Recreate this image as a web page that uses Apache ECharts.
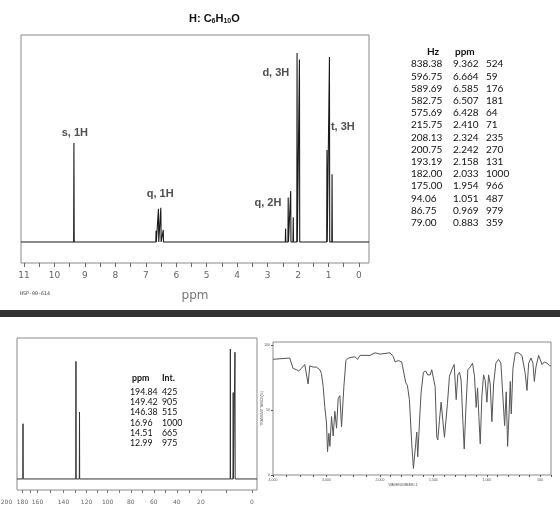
<!DOCTYPE html>
<html><head><meta charset="utf-8">
<script src="https://cdn.jsdelivr.net/npm/echarts@6/dist/echarts.min.js"></script>
<style>html,body{margin:0;padding:0;background:#fff}#c{width:560px;height:505px}</style>
</head><body><div id="c"></div>
<script>
// ---------- 1H NMR ----------
const hHz  = [838.38,596.75,589.69,582.75,575.69,215.75,208.13,200.75,193.19,182.00,175.00,94.06,86.75,79.00];
const hPpm = [9.362,6.664,6.585,6.507,6.428,2.410,2.324,2.242,2.158,2.033,1.954,1.051,0.969,0.883];
const hInt = [524,59,176,181,64,71,235,270,131,1000,966,487,979,359];
const hTicks = [11,10,9,8,7,6,5,4,3,2,1,0];
const hMinorTicks = [10.5,9.5,8.5,7.5,6.5,5.5,4.5,3.5,2.5,1.5,0.5];
const hLabelText = ['s, 1H','q, 1H','q, 2H','d, 3H','t, 3H'];
const hLabelPpm  = [9.33,6.53,2.99,2.73,0.53];
const hLabelVal  = [577,254,206,894,608];
// ---------- 13C NMR ----------
const cPpm = [194.84,149.42,146.38,16.96,14.51,12.99];
const cInt = [425,905,515,1000,665,975];
const cTickText = ['200','180','160','140','120','100','80','60','40','20','0'];
// where the original image prints its (uneven) scale labels, in ppm of the peak scale
const cTickPos  = [209.0,195.3,182.4,160.1,140.3,122.2,102.4,82.6,62.9,42.2,-1.6];
// ---------- IR ----------
const irWn = [4000,3687,3625,3562,3519,3469,3406,3387,3344,3312,3250,3187,3125,3094,3062,3031,3000,2981,2956,2937,2906,2875,2844,2812,2781,2750,2719,2700,2675,2637,2594,2469,2419,2375,2187,2094,2000,
  1906,1875,1859,1844,1828,1797,1781,1759,1744,1725,1703,1687,1678,1666,1656,1647,1631,1616,1594,1572,1553,1531,1516,1500,1484,1469,1459,1444,1428,1412,1397,1384,1369,1350,1328,1306,1287,1272,1256,1241,1225,1212,1197,1178,1156,1134,1116,1100,1087,1075,1062,1047,1031,1016,1000,984,969,953,937,916,891,869,850,834,819,806,791,781,772,756,734,703,672,641,625,609,587,569,556,541,516,484,462,437,412,400];
const irT = [89,90,82,81,80,82,85,86,70,84,83,83,81,78,68,52,40,18,32,22,45,30,49,36,59,61,37,36,68,88,90,91,89,92,92,94,93,
  94,91,87,86,88,87,86,71,69,58,24,5,6,24,33,14,40,63,79,80,77,77,81,80,68,29,27,42,56,42,29,29,55,76,81,85,58,77,79,73,42,20,50,81,83,86,76,52,67,45,24,60,77,73,56,77,70,41,70,86,89,86,60,38,64,22,50,72,47,82,94,94,92,78,65,86,90,86,72,83,92,85,87,86,84,84];
const irTicksA = [4000,3000];
const irTicksB = [2000,1500,1000,500];
const irMinorA = [3750,3500,3250,2750,2500,2250];
const irMinorB = [1900,1800,1700,1600,1400,1300,1200,1100,900,800,700,600,400];

function sticks(ppm, ints, lo, hi, w) {
  const pts = [[hi, 0]];
  const idx = ppm.map((p, i) => i).sort((a, b) => ppm[b] - ppm[a]);
  idx.forEach(i => { pts.push([ppm[i] + w, 0], [ppm[i], ints[i]], [ppm[i] - w, 0]); });
  pts.push([lo, 0]);
  return pts;
}
const irA = [], irB = [];
irWn.forEach((w, i) => { if (w >= 2000) irA.push([w, irT[i]]); if (w <= 2000) irB.push([w, irT[i]]); });

const tickFont = {fontFamily: 'DejaVu Sans', color: '#666'};
const hide = {show: false};
const noLine = {show: false, onZero: false};
const cMin = -5.9, cMax = 200;
const cTickMarks = [];
cTickPos.forEach((p, i) => {
  if (p >= cMin && p <= cMax) cTickMarks.push(p);
  if (i > 0) { const m = (p + cTickPos[i - 1]) / 2; if (m >= cMin && m <= cMax) cTickMarks.push(m); }
});
const G = {outerBoundsMode: 'none', containLabel: false};

const chart = echarts.init(document.getElementById('c'), null, {renderer: 'canvas'});
chart.setOption({
  animation: false,
  backgroundColor: '#fff',
  title: {
    text: '{a|H: C}{s|6}{a|H}{s|10}{a|O}', left: 184, top: 8,
    textStyle: {rich: {
      a: {fontFamily: 'Liberation Sans', fontWeight: 'bold', fontSize: 11, color: '#111'},
      s: {fontFamily: 'Liberation Sans', fontWeight: 'bold', fontSize: 7, color: '#111', padding: [5, 0, 0, 0]}
    }}
  },
  grid: [
    {...G, left: 21, top: 35, width: 348, height: 228, show: true, borderColor: '#8a8a8a', borderWidth: 1},
    {...G, left: 17, top: 338, width: 240, height: 152, show: true, borderColor: '#8a8a8a', borderWidth: 1},
    {...G, left: 273, top: 342, width: 278, height: 133, show: true, borderColor: '#8a8a8a', borderWidth: 1},
    {...G, left: 273, top: 345, width: 107, height: 130},
    {...G, left: 380, top: 345, width: 171, height: 130},
    {...G, left: 0, top: 338, width: 257, height: 152}
  ],
  xAxis: [
    // 0: 1H
    {gridIndex: 0, type: 'value', position: 'bottom', inverse: true, min: -0.33, max: 11.1, splitLine: hide, axisLine: noLine,
     axisTick: {length: 4, customValues: hTicks.concat(hMinorTicks), lineStyle: {color: '#666'}},
     axisLabel: {customValues: hTicks, fontSize: 9, margin: 8, ...tickFont},
     name: 'ppm', nameLocation: 'middle', nameGap: 27, nameTextStyle: {fontFamily: 'DejaVu Sans', fontSize: 12, color: '#777'}},
    // 1: 13C peak scale
    {gridIndex: 1, type: 'value', position: 'bottom', inverse: true, min: cMin, max: cMax, splitLine: hide, axisLine: noLine,
     axisTick: {length: 3, customValues: cTickMarks, lineStyle: {color: '#777'}}, axisLabel: hide},
    // 2: 13C printed scale labels
    {gridIndex: 5, type: 'value', position: 'bottom', inverse: true, min: cMin, max: cMin + 257 / 240 * (cMax - cMin),
     splitLine: hide, axisLine: noLine, axisTick: hide,
     axisLabel: {customValues: cTickPos, fontSize: 6, margin: 9, ...tickFont,
       formatter: v => { let b = 0; cTickPos.forEach((p, i) => { if (Math.abs(p - v) < Math.abs(cTickPos[b] - v)) b = i; }); return cTickText[b]; }}},
    // 3: IR frame
    {gridIndex: 2, type: 'value', position: 'bottom', min: 0, max: 1, axisLine: noLine, axisTick: hide, axisLabel: hide, splitLine: hide,
     name: 'WAVENUMBER/-1', nameLocation: 'middle', nameGap: 8,
     nameTextStyle: {fontSize: 3.5, color: '#555', padding: [0, 18, 0, 0]}},
    // 4: IR 4000-2000
    {gridIndex: 3, type: 'value', position: 'bottom', inverse: true, min: 2000, max: 4000, splitLine: hide, axisLine: noLine,
     axisTick: {length: 2, customValues: irTicksA.concat(irMinorA), lineStyle: {color: '#555'}},
     axisLabel: {customValues: irTicksA, fontSize: 3.5, margin: 3, color: '#555'}},
    // 5: IR 2000-400
    {gridIndex: 4, type: 'value', position: 'bottom', inverse: true, min: 400, max: 2000, splitLine: hide, axisLine: noLine,
     axisTick: {length: 2, customValues: irTicksB.concat(irMinorB), lineStyle: {color: '#555'}},
     axisLabel: {customValues: irTicksB, fontSize: 3.5, margin: 3, color: '#555'}}
  ],
  yAxis: [
    {gridIndex: 0, type: 'value', min: -111, max: 1095, show: false},
    {gridIndex: 1, type: 'value', min: -85, max: 1085, show: false},
    {gridIndex: 2, type: 'value', position: 'left', min: 0, max: 1, axisLine: noLine, axisTick: hide, axisLabel: hide, splitLine: hide,
     name: 'TRANSMITTANCE(%)', nameLocation: 'middle', nameGap: 9, nameTextStyle: {fontSize: 3.5, color: '#555'}},
    {gridIndex: 3, type: 'value', position: 'left', min: 0, max: 100, interval: 50, splitLine: hide, axisLine: noLine,
     axisTick: {length: 2, lineStyle: {color: '#555'}}, axisLabel: {fontSize: 3.5, margin: 3, color: '#555'}},
    {gridIndex: 4, type: 'value', min: 0, max: 100, show: false},
    {gridIndex: 5, type: 'value', min: 0, max: 1, show: false}
  ],
  series: [
    {type: 'line', xAxisIndex: 0, yAxisIndex: 0, data: sticks(hPpm, hInt, -0.33, 11.1, 0.009),
     showSymbol: false, lineStyle: {color: '#1a1a1a', width: 1.1}},
    {type: 'scatter', xAxisIndex: 0, yAxisIndex: 0, symbolSize: 0,
     data: hLabelPpm.map((p, i) => ({value: [p, hLabelVal[i]], name: hLabelText[i]})),
     label: {show: true, position: 'inside', formatter: p => p.name,
       fontFamily: 'Liberation Sans', fontWeight: 'bold', fontSize: 11, color: '#222'}},
    {type: 'line', xAxisIndex: 1, yAxisIndex: 1, data: sticks(cPpm, cInt, cMin, cMax, 0.15),
     showSymbol: false, lineStyle: {color: '#333', width: 1}},
    {type: 'line', xAxisIndex: 4, yAxisIndex: 3, data: irA, showSymbol: false, lineStyle: {color: '#555', width: 1}},
    {type: 'line', xAxisIndex: 5, yAxisIndex: 4, data: irB, showSymbol: false, lineStyle: {color: '#555', width: 1}}
  ],
  graphic: [
    {type: 'rect', left: 0, top: 310, shape: {width: 560, height: 7}, style: {fill: '#333'}},
    {type: 'text', left: 20, top: 291, style: {text: 'HSP-00-614', fontFamily: 'DejaVu Sans Mono', fontSize: 5, fill: '#444'}},
    {type: 'text', left: 427, top: 47, style: {text: 'Hz', fontFamily: 'Lato', fontWeight: 'bold', fontSize: 10, fill: '#111'}},
    {type: 'text', left: 455, top: 47, style: {text: 'ppm', fontFamily: 'Lato', fontWeight: 'bold', fontSize: 10, fill: '#111'}},
    {type: 'text', left: 411, top: 58, style: {text: hHz.map(v => v.toFixed(2)).join('\n'), fontFamily: 'Lato', fontSize: 10, lineHeight: 12.2, fill: '#111'}},
    {type: 'text', left: 453, top: 58, style: {text: hPpm.map(v => v.toFixed(3)).join('\n'), fontFamily: 'Lato', fontSize: 10, lineHeight: 12.2, fill: '#111'}},
    {type: 'text', left: 486, top: 58, style: {text: hInt.join('\n'), fontFamily: 'Lato', fontSize: 10, lineHeight: 12.2, fill: '#111'}},
    {type: 'text', left: 132, top: 374, style: {text: 'ppm', fontFamily: 'Lato', fontWeight: 'bold', fontSize: 8.8, fill: '#111'}},
    {type: 'text', left: 162, top: 374, style: {text: 'Int.', fontFamily: 'Lato', fontWeight: 'bold', fontSize: 8.8, fill: '#111'}},
    {type: 'text', left: 130, top: 387, style: {text: cPpm.map(v => v.toFixed(2)).join('\n'), fontFamily: 'Lato', fontSize: 8.8, lineHeight: 10.2, fill: '#111'}},
    {type: 'text', left: 162, top: 387, style: {text: cInt.join('\n'), fontFamily: 'Lato', fontSize: 8.8, lineHeight: 10.2, fill: '#111'}}
  ]
});
</script></body></html>
